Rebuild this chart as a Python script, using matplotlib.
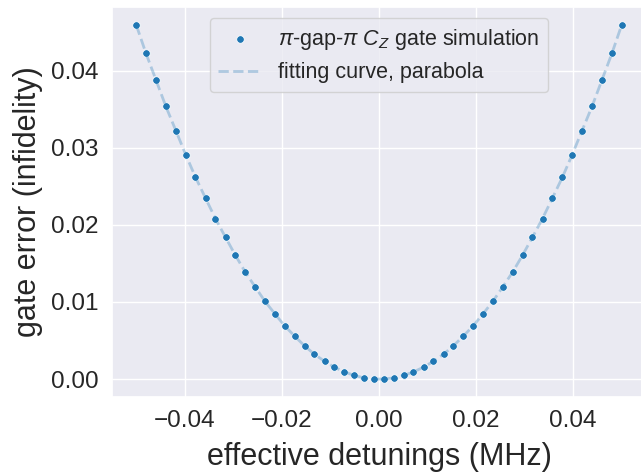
import matplotlib
matplotlib.use("Agg")
import matplotlib.pyplot as plt
import seaborn as sns

# Detuning values (MHz) and simulated gate error
detuning = [-0.0500, -0.0480, -0.0459, -0.0439, -0.0418, -0.0398, -0.0378, -0.0357,
            -0.0337, -0.0316, -0.0296, -0.0276, -0.0255, -0.0235, -0.0214, -0.0194,
            -0.0173, -0.0153, -0.0133, -0.0112, -0.0092, -0.0071, -0.0051, -0.0031,
            -0.0010, 0.0010, 0.0031, 0.0051, 0.0071, 0.0092, 0.0112, 0.0133,
            0.0153, 0.0173, 0.0194, 0.0214, 0.0235, 0.0255, 0.0276, 0.0296,
            0.0316, 0.0337, 0.0357, 0.0378, 0.0398, 0.0418, 0.0439, 0.0459,
            0.0480, 0.0500]
gate_error = [0.04590, 0.04223, 0.03871, 0.03535, 0.03214, 0.02908, 0.02618, 0.02342,
              0.02082, 0.01837, 0.01608, 0.01394, 0.01195, 0.01011, 0.00843, 0.00690,
              0.00553, 0.00430, 0.00323, 0.00231, 0.00155, 0.00094, 0.00048, 0.00017,
              0.00002, 0.00002, 0.00017, 0.00048, 0.00094, 0.00155, 0.00231, 0.00323,
              0.00430, 0.00553, 0.00690, 0.00843, 0.01011, 0.01195, 0.01394, 0.01608,
              0.01837, 0.02082, 0.02342, 0.02618, 0.02908, 0.03214, 0.03535, 0.03871,
              0.04223, 0.04590]
fit_curve = gate_error

sns.set_theme(style="darkgrid")
plt.rcParams['font.family'] = ['Liberation Sans', 'DejaVu Sans']
plt.rcParams['mathtext.fontset'] = 'custom'
plt.rcParams['mathtext.rm'] = 'Liberation Sans'
plt.rcParams['mathtext.it'] = 'Liberation Sans:italic'

fig = plt.figure(figsize=(6.41, 4.73), dpi=100)
ax = fig.add_axes([0.1747, 0.1613, 0.833, 0.8233])

sc = ax.scatter(detuning, gate_error, s=30, color='#1f77b4', edgecolor='white',
                linewidth=0.6, zorder=2, label=r'$\pi$-gap-$\pi$ $C_Z$ gate simulation')
ln, = ax.plot(detuning, fit_curve, linestyle='--', color='#1f77b4', alpha=0.3,
              linewidth=2, zorder=3, label='fitting curve, parabola')

ax.set_xticks([-0.04, -0.02, 0.00, 0.02, 0.04])
ax.set_yticks([0.00, 0.01, 0.02, 0.03, 0.04])
ax.tick_params(axis='both', labelsize=17.5, colors='#262626')
ax.set_xlabel('effective detunings (MHz)', fontsize=22, color='#262626', labelpad=7)
ax.set_ylabel('gate error (infidelity)', fontsize=22, color='#262626', labelpad=6)

ax.legend(handles=[sc, ln], loc='upper center', fontsize=15.5, frameon=True)

fig.savefig('out.png', dpi=100)
